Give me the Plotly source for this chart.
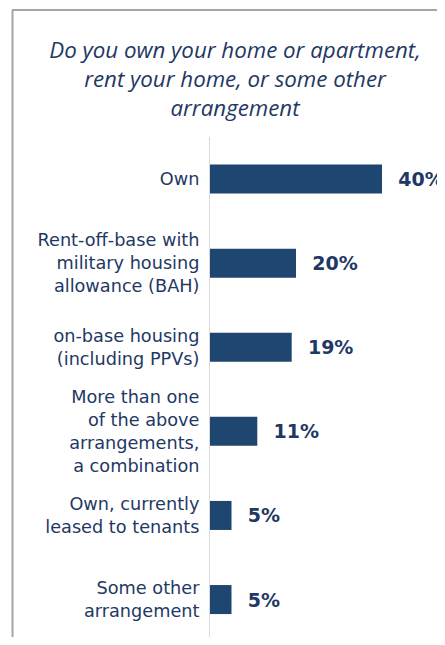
import plotly.graph_objects as go

categories = [
    "Own",
    "Rent-off-base with<br>military housing<br>allowance (BAH)",
    "on-base housing<br>(including PPVs)",
    "More than one<br>of the above<br>arrangements,<br>a combination",
    "Own, currently<br>leased to tenants",
    "Some other<br>arrangement",
]
values = [40, 20, 19, 11, 5, 5]
title_text = "Do you own your home or apartment,<br>rent your home, or some other<br>arrangement"

# page has an 8px body margin; size the figure to fit inside the window
OFF = 8
W, H = 445 - OFF, 645 - 2 * OFF
ML, MR, MT, MB = 210 - OFF, 0, 137 - OFF, 0
ROW_PX = 84.1
BAR_COLOR = "#1F4571"
TEXT_COLOR = "#1F3864"

fig = go.Figure(go.Bar(
    x=values, y=categories, orientation="h",
    marker=dict(color=BAR_COLOR, line=dict(width=0)),
    width=0.345,
    text=values, texttemplate="  %{x}%", textposition="outside",
    textfont=dict(family="DejaVu Sans", size=19, color=TEXT_COLOR, weight="bold"),
    cliponaxis=False,
))

pw = W - ML - MR
ph = H - MT - MB
def px2paper_x(px):
    return (px - ML) / pw
def px2paper_y(py):
    return (H - MB - py) / ph

border = "#A6A6A6"
fig.update_layout(
    width=W, height=H,
    margin=dict(l=ML, r=MR, t=MT, b=MB, pad=0),
    paper_bgcolor="white", plot_bgcolor="white",
    showlegend=False,
    title=dict(
        text="<i>" + title_text + "</i>",
        x=(235 - OFF) / W, xanchor="center", xref="container",
        y=1 - 50 / H, yanchor="top", yref="container",
        font=dict(family="Open Sans", size=22.3, color=TEXT_COLOR),
    ),
    xaxis=dict(range=[0, pw / 4.3], visible=False, fixedrange=True),
    yaxis=dict(
        range=[-0.5 + ph / ROW_PX, -0.5], showline=True, linecolor="#D9D9D9", linewidth=1,
        showgrid=False, zeroline=False,
        ticks="outside", ticklen=6, tickcolor="rgba(0,0,0,0)",
        tickfont=dict(family="DejaVu Sans", size=17.7, color=TEXT_COLOR),
    ),
    shapes=[
        dict(type="line", xref="paper", yref="paper",
             x0=px2paper_x(4), x1=px2paper_x(W + 5), y0=px2paper_y(2), y1=px2paper_y(2),
             line=dict(color=border, width=2)),
        dict(type="line", xref="paper", yref="paper",
             x0=px2paper_x(4.5), x1=px2paper_x(4.5), y0=px2paper_y(2), y1=px2paper_y(H + 5),
             line=dict(color=border, width=2)),
    ],
)

fig.write_html("out.html")
